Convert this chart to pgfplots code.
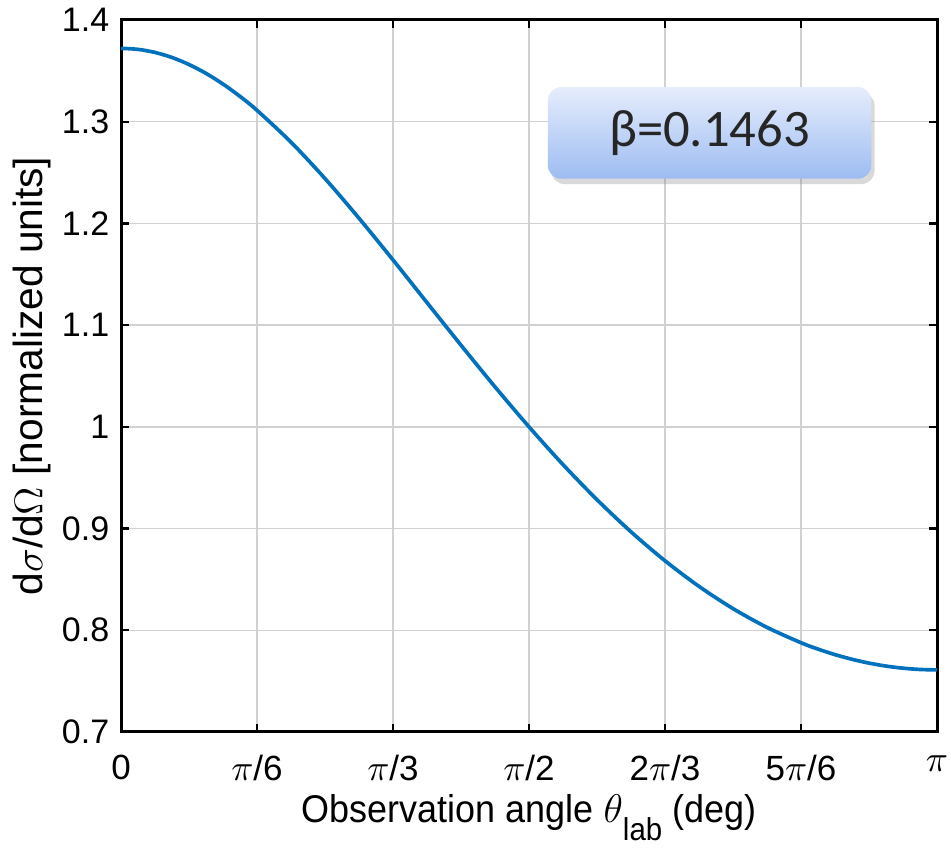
\documentclass[border=0pt]{standalone}
\usepackage{pgfplots}
\pgfplotsset{compat=1.18}
\usepackage{fontspec}
\setmainfont{Liberation Sans}
\newfontfamily\narrowfont{Liberation Sans}[FakeStretch=0.93]
\newfontfamily\boxfont{Carlito}
\usetikzlibrary{calc,shadows}
\definecolor{mblue}{RGB}{0,114,189}
\definecolor{boxtop}{RGB}{230,237,252}
\definecolor{boxbot}{RGB}{157,188,242}
\pgfplotstableread{
x y
0.00000 1.37212
0.06545 1.37111
0.13090 1.36810
0.19635 1.36312
0.26180 1.35623
0.32725 1.34749
0.39270 1.33701
0.45815 1.32487
0.52360 1.31121
0.65450 1.27986
0.78540 1.24409
0.91630 1.20510
1.04720 1.16408
1.17810 1.12213
1.30900 1.08026
1.43990 1.03931
1.57080 1.00000
1.70170 0.96287
1.83260 0.92836
1.96350 0.89677
2.09440 0.86832
2.22529 0.84313
2.35619 0.82128
2.48709 0.80282
2.61799 0.78774
2.68344 0.78147
2.74889 0.77604
2.81434 0.77145
2.87979 0.76770
2.94524 0.76478
3.01069 0.76270
3.07614 0.76145
3.14159 0.76103
}\datatable
\begin{document}
\begin{tikzpicture}
\begin{axis}[
  name=ax,
  scale only axis,
  width=244.8pt, height=213.6pt,
  xmin=0, xmax=3.14159, ymin=0.7, ymax=1.4,
  xtick={0,0.5236,1.0472,1.5708,2.0944,2.6180,3.14159},
  xticklabels={0,{$\pi$/6},{$\pi$/3},{$\pi$/2},{2$\pi$/3},{5$\pi$/6},{$\pi$}},
  ytick={0.7,0.8,0.9,1,1.1,1.2,1.3,1.4},
  /pgf/number format/assume math mode=true,
  yticklabel style={/pgf/number format/fixed, font=\fontsize{10.2}{12}\selectfont},
  xticklabel style={yshift=-3.5pt, font=\fontsize{10.5}{12}\selectfont},
  xlabel={\narrowfont Observation angle $\theta$\raisebox{-0.9ex}{\fontsize{9.5}{11}\selectfont lab} (deg)},
  ylabel={d$\sigma$/d$\Omega$ [normalized units]},
  xlabel style={font=\fontsize{11.6}{13}\selectfont, yshift=3pt},
  ylabel style={font=\fontsize{12.2}{14}\selectfont, yshift=-3.5pt},
  grid=major,
  major grid style={draw=black!18, line width=0.4pt},
  axis line style={line width=0.9pt},
  tick style={black, line width=0.7pt},
  major tick length=2.4pt,
  tick align=inside,
  xtick pos=both, ytick pos=both,
]
\addplot[mblue, line width=1.1pt, smooth] table[x=x,y=y] {\datatable};
\node[rounded corners=4pt, top color=boxtop, bottom color=boxbot,
      drop shadow={opacity=0.3, shadow xshift=1.0pt, shadow yshift=-1.6pt},
      minimum width=97pt, minimum height=27.5pt, inner sep=0pt,
      font=\boxfont\fontsize{15.8}{18}\selectfont, text=black!85]
  at (axis cs:2.266,1.289) {β=0.1463};
\end{axis}
\pgfresetboundingbox
\path ($(ax.south west)+(-36.3pt,-37.2pt)$) rectangle ($(ax.north east)+(4.2pt,6pt)$);
\end{tikzpicture}
\end{document}
